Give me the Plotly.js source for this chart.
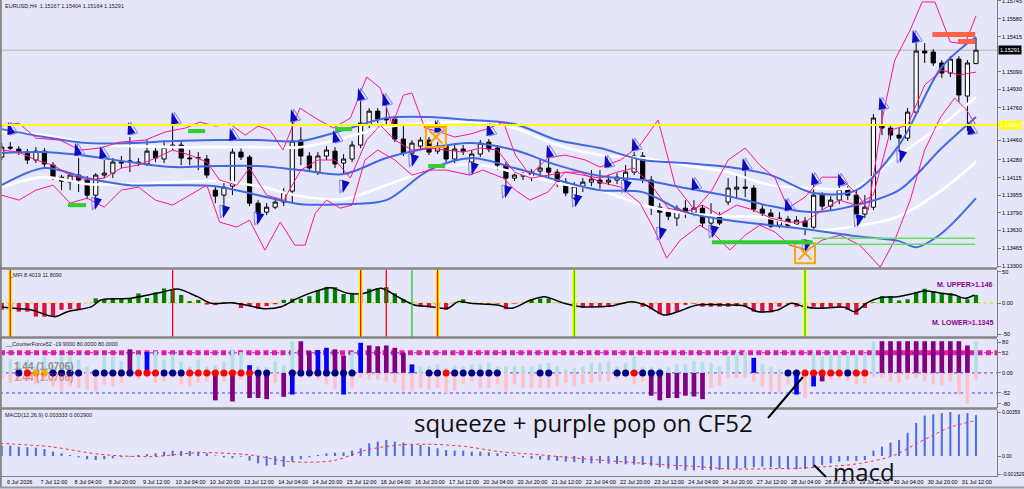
<!DOCTYPE html>
<html><head><meta charset="utf-8">
<script src="https://cdn.plot.ly/plotly-3.0.1.min.js"></script>
<style>html,body{margin:0;padding:0;background:#E6E6FA;}#chart{width:1024px;height:489px;}</style>
</head><body><div id="chart"></div>
<script>
// ---------- price candles (EURUSD H4) ----------
const candleOpen = [1.14305,1.14397,1.14379,1.14351,1.14278,1.14360,1.14231,1.14120,1.14074,1.14139,1.14093,1.13954,1.14139,1.14157,1.14250,1.14259,1.14259,1.14241,1.14360,1.14287,1.14397,1.14416,1.14296,1.14296,1.14287,1.14000,1.13954,1.14037,1.14351,1.14305,1.13880,1.13797,1.13843,1.13890,1.13991,1.14462,1.14315,1.14166,1.14315,1.14360,1.14250,1.14287,1.14416,1.14600,1.14729,1.14656,1.14656,1.14471,1.14342,1.14406,1.14462,1.14360,1.14406,1.14287,1.14379,1.14259,1.14333,1.14443,1.14388,1.14231,1.14111,1.14130,1.14120,1.14176,1.14204,1.14166,1.14074,1.13926,1.14037,1.14074,1.14093,1.14074,1.14093,1.14093,1.14166,1.14315,1.14093,1.13843,1.13797,1.13742,1.13834,1.13788,1.13834,1.13696,1.13770,1.13890,1.14009,1.14028,1.14019,1.13825,1.13788,1.13677,1.13733,1.13687,1.13714,1.13659,1.13954,1.13853,1.13908,1.14009,1.13954,1.13779,1.13843,1.14600,1.14573,1.14508,1.14480,1.14720,1.15283,1.15274,1.15173,1.15080,1.15209,1.14868,1.15167];
const candleHigh = [1.14434,1.14443,1.14406,1.14379,1.14397,1.14388,1.14259,1.14139,1.14166,1.14296,1.14130,1.14157,1.14278,1.14296,1.14315,1.14490,1.14296,1.14462,1.14406,1.14462,1.14600,1.14462,1.14370,1.14351,1.14324,1.14037,1.14065,1.14388,1.14388,1.14324,1.13908,1.13880,1.13926,1.14019,1.14646,1.14580,1.14351,1.14351,1.14406,1.14397,1.14333,1.14453,1.14850,1.14757,1.14757,1.14757,1.14683,1.14591,1.14462,1.14490,1.14490,1.14443,1.14434,1.14434,1.14416,1.14370,1.14462,1.14471,1.14416,1.14259,1.14166,1.14166,1.14194,1.14278,1.14296,1.14194,1.14111,1.14074,1.14111,1.14185,1.14185,1.14139,1.14157,1.14231,1.14351,1.14351,1.14130,1.13880,1.13834,1.13862,1.13908,1.13908,1.13862,1.13880,1.13797,1.14111,1.14139,1.14185,1.14046,1.13862,1.13825,1.13797,1.13760,1.13760,1.13751,1.14046,1.13982,1.13945,1.14046,1.14037,1.14000,1.13954,1.14702,1.14739,1.14600,1.14573,1.14757,1.15357,1.15357,1.15301,1.15200,1.15237,1.15237,1.15200,1.15404];
const candleLow = [1.14278,1.14370,1.14324,1.14241,1.14250,1.14204,1.14093,1.14000,1.14000,1.13982,1.13917,1.13926,1.14111,1.14111,1.14204,1.14166,1.14222,1.14222,1.14259,1.14250,1.14370,1.14231,1.14231,1.14185,1.14111,1.13880,1.13834,1.13954,1.14278,1.13853,1.13770,1.13770,1.13825,1.13853,1.13890,1.14231,1.14166,1.14139,1.14278,1.14204,1.14139,1.14259,1.14388,1.14573,1.14619,1.14600,1.14443,1.14315,1.14305,1.14370,1.14324,1.14333,1.14259,1.14250,1.14324,1.14231,1.14305,1.14351,1.14185,1.14009,1.14083,1.14093,1.14083,1.14130,1.14111,1.14028,1.13945,1.13908,1.13982,1.14037,1.14009,1.14046,1.14056,1.14056,1.14139,1.14065,1.13770,1.13650,1.13723,1.13668,1.13742,1.13760,1.13659,1.13631,1.13677,1.13862,1.13917,1.13935,1.13797,1.13742,1.13650,1.13650,1.13650,1.13650,1.13585,1.13631,1.13816,1.13816,1.13871,1.13908,1.13742,1.13742,1.13816,1.14508,1.14462,1.14351,1.14453,1.14693,1.15173,1.15145,1.15034,1.15043,1.14813,1.14545,1.15164];
const candleClose = [1.14397,1.14388,1.14351,1.14278,1.14360,1.14241,1.14111,1.14083,1.14139,1.14093,1.13954,1.14139,1.14157,1.14259,1.14259,1.14268,1.14250,1.14360,1.14296,1.14397,1.14416,1.14296,1.14290,1.14300,1.14139,1.13945,1.14028,1.14351,1.14305,1.13880,1.13788,1.13843,1.13890,1.13982,1.14453,1.14315,1.14204,1.14315,1.14370,1.14241,1.14287,1.14416,1.14619,1.14729,1.14656,1.14650,1.14471,1.14342,1.14434,1.14462,1.14351,1.14406,1.14287,1.14379,1.14360,1.14333,1.14434,1.14379,1.14231,1.14111,1.14139,1.14134,1.14166,1.14204,1.14166,1.14074,1.13973,1.14037,1.14074,1.14102,1.14065,1.14093,1.14120,1.14166,1.14315,1.14102,1.13843,1.13797,1.13760,1.13834,1.13788,1.13834,1.13696,1.13770,1.13696,1.14019,1.14028,1.14019,1.13825,1.13788,1.13668,1.13742,1.13677,1.13723,1.13659,1.13954,1.13853,1.13908,1.14009,1.13954,1.13779,1.13843,1.14665,1.14573,1.14508,1.14480,1.14720,1.15283,1.15265,1.15173,1.15080,1.15209,1.14877,1.15173,1.15291];

// ---------- x-axis labels ----------
const timeLabelBars = [0,4,8,12,16,20,24,28,32,36,40,44,48,52,56,60,64,68,72,76,80,84,88,92,96,100,104,108,112];
const timeLabels = ["6 Jul 2026","7 Jul 12:00","8 Jul 04:00","8 Jul 20:00","9 Jul 12:00","10 Jul 04:00","10 Jul 20:00","13 Jul 12:00","14 Jul 04:00","14 Jul 20:00","15 Jul 12:00","16 Jul 04:00","16 Jul 20:00","17 Jul 12:00","20 Jul 04:00","20 Jul 20:00","21 Jul 12:00","22 Jul 04:00","22 Jul 20:00","23 Jul 12:00","24 Jul 04:00","24 Jul 20:00","27 Jul 12:00","28 Jul 04:00","28 Jul 20:00","29 Jul 12:00","30 Jul 04:00","30 Jul 20:00","31 Jul 12:00"];
const priceTicks = [1.15745,1.15580,1.15415,1.15090,1.14930,1.14760,1.14460,1.14280,1.14115,1.13955,1.13790,1.13630,1.13465,1.13300];

// ---------- channel lines (blue / white) ----------
const bandBar = [0,5,10,15,20,25,30,35,40,45,50,55,60,65,70,75,80,85,90,95,100,105,110,114];
const blueUpper = [1.14563,1.14490,1.14434,1.14434,1.14453,1.14462,1.14462,1.14453,1.14554,1.14665,1.14674,1.14646,1.14610,1.14462,1.14388,1.14278,1.14250,1.14213,1.14139,1.13973,1.14000,1.14416,1.15136,1.15413];
const blueMiddle = [1.14342,1.14351,1.14315,1.14259,1.14213,1.14222,1.14222,1.14185,1.14148,1.14296,1.14388,1.14434,1.14370,1.14231,1.14130,1.14093,1.14019,1.13945,1.13853,1.13797,1.13862,1.14000,1.14388,1.14674];
const blueLowerBar = [0,5,10,15,20,25,30,35,40,45,50,55,60,65,70,75,80,85,90,95,100,105,107,110,114];
const blueLower = [1.14046,1.14204,1.14111,1.14046,1.14046,1.14037,1.13954,1.13871,1.13871,1.13908,1.14185,1.14296,1.14204,1.14093,1.14000,1.13982,1.13797,1.13723,1.13677,1.13631,1.13576,1.13530,1.13474,1.13603,1.13926];
const whiteUpper = [1.14536,1.14508,1.14434,1.14406,1.14397,1.14397,1.14397,1.14397,1.14480,1.14582,1.14619,1.14628,1.14573,1.14416,1.14324,1.14296,1.14231,1.14166,1.14046,1.14019,1.14028,1.14324,1.14600,1.14859];
const whiteLower = [1.14028,1.14120,1.14056,1.14056,1.14074,1.14083,1.14037,1.13945,1.13917,1.14046,1.14185,1.14241,1.14166,1.14065,1.14000,1.13862,1.13788,1.13760,1.13742,1.13631,1.13668,1.13760,1.14000,1.14259];

// ---------- pink bands ----------
const pinkUpperBar = [0,2,4,6.8,9.2,11.5,13.8,16.8,19.1,21.5,23.2,25,26.7,28.5,30,31.4,32.9,34.9,36.7,38.8,40.8,42.7,44.3,45.7,47,48,49.5,51.3,53,54.8,57.1,58.7,60.1,61.8,63.9,65.9,68.3,70,72.4,74.7,76.8,78.8,81.1,83.1,85,87,88.7,90.5,92,94,96,98.1,100.2,101.4,103,104.5,106.3,107.7,109.2,111,112.7,114];
const pinkUpper = [1.14591,1.14619,1.14480,1.14462,1.14370,1.14388,1.14443,1.14462,1.14536,1.14573,1.14628,1.14591,1.14610,1.14508,1.14591,1.14554,1.14370,1.14757,1.14665,1.14573,1.14665,1.15043,1.14942,1.14600,1.14877,1.14896,1.14573,1.14536,1.14490,1.14517,1.14573,1.14628,1.14324,1.14139,1.14296,1.14324,1.14278,1.14213,1.14278,1.14416,1.14646,1.14046,1.13816,1.14000,1.14278,1.14388,1.14231,1.14111,1.13834,1.13936,1.14120,1.14120,1.13954,1.13816,1.14646,1.15200,1.15477,1.15736,1.15736,1.15366,1.15348,1.15606];
const pinkLowerBar = [0,2,4,6,8,10,12,14,16,18,20,22,24,25.5,27.5,29,30.8,32.6,34.3,35.5,36.7,38,39.6,41,42.5,44,46,48,50,52,54.8,56.3,58.7,60.1,61.8,63.9,65.9,67.7,70,72.4,74.7,76.4,77.8,79.4,81.7,83.5,85.2,87,88.7,90.5,92.2,94.3,96,98.1,100.4,102.8,104.5,106.3,108,109.8,111.5,112.9,114];
const pinkLower = [1.13954,1.13908,1.14000,1.14046,1.13880,1.13926,1.13843,1.14000,1.14028,1.13908,1.13862,1.13954,1.14046,1.13705,1.13659,1.13723,1.13447,1.13705,1.13493,1.13493,1.13788,1.13908,1.13834,1.13862,1.14278,1.14370,1.14278,1.14139,1.14185,1.14185,1.14139,1.14185,1.14111,1.14000,1.13908,1.13982,1.14166,1.14166,1.14074,1.14028,1.13880,1.13631,1.13373,1.13539,1.13677,1.13585,1.13447,1.13585,1.13677,1.13613,1.13493,1.13447,1.13539,1.13585,1.13493,1.13290,1.13539,1.13908,1.14370,1.14665,1.14850,1.14739,1.14600];
const pinkMidBar = [0,2,4,6,8,10,12,14,16,18,20,22,24,25.5,27.5,29,31,33,35,37,39,40.8,42.7,44.3,46,48,50,52,54,56,58,60,62,64,66,68,70,72,74,76,78,80,82,84,86,88,90,92,94,96,98,100,102,104,106,108,110,112,114];
const pinkMid = [1.14370,1.14351,1.14278,1.14231,1.14139,1.14093,1.14111,1.14204,1.14231,1.14296,1.14370,1.14324,1.14259,1.14093,1.14046,1.14204,1.13954,1.13908,1.14185,1.14278,1.14278,1.14111,1.14462,1.14600,1.14462,1.14370,1.14388,1.14370,1.14351,1.14388,1.14370,1.14166,1.14111,1.14139,1.14166,1.14139,1.14111,1.14166,1.14204,1.14046,1.13834,1.13797,1.13862,1.13770,1.13862,1.13816,1.13742,1.13705,1.13705,1.13816,1.13908,1.13862,1.13954,1.14554,1.14600,1.14969,1.15108,1.15062,1.15089];

// ---------- signal arrows / objects ----------
const arrowUpBar = [0.74,8.58,11.5,14.8,19.9,26.7,33.85,38.8,41.7,44.6,50.7,56.8,63.8,70.6,73.8,80.8,86.7,91.7,94.8,97.9,102.7,106.6,113.1];
const arrowUpPrice = [1.14628,1.14434,1.14406,1.14628,1.14720,1.14573,1.14748,1.14554,1.14942,1.14896,1.14646,1.14619,1.14416,1.14324,1.14480,1.14120,1.14296,1.13926,1.14166,1.14157,1.14859,1.15477,1.14628];
const arrowDownBar = [10.9,25.9,29.9,39.9,48,55,58.9,67.1,72.9,77,83.1,94,100.1,105.1];
const arrowDownPrice = [1.13816,1.13742,1.13677,1.13973,1.14213,1.14139,1.13926,1.13843,1.13973,1.13539,1.13557,1.13428,1.13659,1.14250];
const greenZoneStart = [7.76,21.8,39.0,49.9,83.1];
const greenZoneEnd = [9.87,23.8,41.0,51.9,94.9];
const greenZonePrice = [1.13862,1.14545,1.14563,1.14222,1.13520];
const greenLevelStart = 94.9, greenLevelEnd = 113.9;
const greenLevelPrices = [1.13557,1.13502];
const redZoneStart = [108.9,111.9];
const redZoneEnd = [113.9,113.9];
const redZonePrice = [1.15436,1.15371];
const crossBoxBar = [50.8,94];
const crossBoxPrice = [1.14490,1.13419];
const keyLevel = 1.14600;
const lastPrice = 1.15291;

// ---------- MFI panel ----------
const mfiHist = [-11,-11,-14,-14,-22,-22,-22,-11,-10,-10,0,7.5,5,7.5,7.5,8,15.5,8,17,23.5,21,13,3,5,-2.5,-3.5,1,1.5,-8,-5,-9,-5,-2,5,7,7,11,20,26,25.5,14.5,14.5,14.5,23,24,25.5,15.6,6,0.5,-6,-7,-7,-11,0.5,6,-1,-1,-1,-1,-10,-1,0.5,6,7.5,7.5,0.5,-0.5,-8,-8,-6,-6,-6,-1,1.5,0.5,-6,-10,-18,-19,-14,-3,-1,-6,-6,-6,-6,-5,-6,-14,-15,-15,-6,-1,-6,-11,-6,-8,-8,-6,-11,-19,-8,1,11,11,4,6,18,23,19,16,16,9.5,6,13];
const mfiLineBar = [-0.5,1.5,3.4,6.2,7.7,10.5,11.6,15.1,19,20.6,22.9,24.5,26.8,28.4,30.7,32.7,34.6,36.6,38.5,40.5,42.4,44.4,46.3,48.3,50.2,52.2,53.4,54.9,58,59.6,61.9,63.5,65.8,67.8,71.3,73.7,75.3,77.5,79.1,81.4,84.9,86.9,88.5,90.8,92.4,93.9,95.5,98.6,99.8,101.3,103,104.8,106.8,108,110,111.5,112.7,113.8];
const mfiLineVal = [-5.9,-8.6,-10.8,-22,-14,-5.9,4.8,7.5,18.3,22.6,10.2,-0.5,0.5,-2.7,-9.1,-5.9,7.5,18.3,24.7,15.6,15.6,23.7,10.2,-3.2,-5.9,-8.6,2.2,-0.5,-3.2,-8.6,4.8,10.2,-0.5,-5.9,-4.8,2.2,-3.2,-19.4,-14,-3.2,-3.2,-4.8,-14,-11.3,-0.5,-5.9,-8.6,-7,-14,0.5,9.1,10.2,15.6,19.9,15.6,12.9,7.5,12.9];
const mfiMarkerBar = [1,20,42,45,48,51,67,94];
const mfiMarkerKind = ["yr","r","yr","r","g","yr","yg","yg"];

// ---------- CounterForce52 panel ----------
const cfUp = [43,35,30,35,17,43,17,43,43,35,17,9,43,43,30,61,48,54,56,35,48,30,17,35,17,20,30,62,54,20,17,15,30,20,82,82,56,59,65,61,45,54,78,71,69,71,65,52,22,17,17,22,13,19,17,22,22,26,17,17,17,17,17,24,26,17,9,13,17,26,26,30,17,26,43,16,16,13,16,22,22,30,28,26,17,43,52,54,39,22,16,9,9,9,10,52,43,48,48,48,48,48,82,82,82,82,82,82,82,82,82,82,82,71,82];
const cfUpKind = "cccccccccccccccpcbcccccccccccbcccccppbbppcbpppppbcccccccccccccccccccccccccccccccccccccccbccccccccccccccpppppppppppcp";
const cfDn = [-13,-26,-17,-22,-30,-17,-35,-48,-35,-39,-43,-48,-30,-35,-26,-13,-17,-13,-26,-22,-13,-30,-35,-26,-22,-71,-22,-74,-17,-65,-65,-68,-26,-62,-56,-13,-13,-17,-30,-43,-56,-39,-13,-17,-17,-22,-26,-48,-48,-39,-42,-39,-52,-45,-28,-22,-39,-39,-30,-48,-30,-39,-39,-39,-39,-35,-26,-35,-30,-26,-22,-22,-17,-13,-30,-22,-59,-71,-65,-65,-59,-61,-68,-39,-33,-13,-13,-13,-22,-35,-48,-52,-30,-56,-65,-35,-22,-17,-17,-22,-30,-28,-10,-13,-22,-26,-17,-13,-22,-30,-33,-22,-56,-80,-17];
const cfDnKind = "kkkkkkkkkkkkkkkkkkkkkkkkkpkpkpppkpbkkkkkbkkkkkkkkkkkkkkkkkkkkkkkkkkkkkkkkkkkpppppppkkkkkkkkkkbkbpkkkkkkkkkkkkkkkkkkbpk";
const cfDot = "--nroonnnn-nnnnnrrrnnnrrrrrrrrnn--nnnnnnnn--------nnrnnnnnn----nn-------nnrnnn--------------nnrrrrrnrr-------------";

// ---------- MACD panel ----------
const macdHist = [0.00084,0.00084,0.00076,0.00071,0.00068,0.00057,0.00035,0.00022,0.00008,-0.00011,-0.00027,-0.00033,-0.00027,-0.00019,-0.0001,-0.00005,0.00008,0.00016,0.00022,0.00035,0.00044,0.00041,0.00041,0.00035,0.00022,0.00005,-0.00011,-0.00019,-0.00005,-0.00038,-0.0006,-0.00079,-0.00073,-0.00087,-0.00046,-0.00027,-0.00011,0.00008,0.00022,0.00027,0.0003,0.00044,0.00063,0.00103,0.00117,0.00131,0.00117,0.00109,0.00098,0.0009,0.00076,0.00063,0.00049,0.00044,0.00044,0.00035,0.00035,0.0003,0.00022,0.00016,0.00008,-0.00011,-0.00022,-0.0003,-0.00035,-0.0004,-0.00046,-0.0005,-0.00057,-0.0006,-0.0006,-0.00063,-0.00065,-0.00068,-0.0007,-0.00073,-0.00081,-0.00092,-0.00103,-0.00114,-0.0012,-0.00117,-0.00114,-0.00117,-0.00114,-0.00109,-0.00103,-0.00098,-0.00092,-0.00087,-0.00092,-0.001,-0.00109,-0.00109,-0.00106,-0.00092,-0.00073,-0.0006,-0.00046,-0.00038,-0.0004,-0.00033,0.00044,0.00076,0.0011,0.0013,0.0019,0.0027,0.0033,0.0034,0.0035,0.00359,0.0034,0.0035,0.00333];
const macdSignalBar = [-0.2,5.65,11.5,17.4,23.2,29.1,33.7,38.8,42.7,46.6,50.5,54.4,58.3,62.2,66.2,70,74,77.8,81.7,84.8,89,93,96.5,100.5,104.4,107.1,109,111,114];
const macdSignal = [0.00103,0.00076,0.00014,-0.00005,0.00027,0.00008,-0.00046,-0.00038,0.00049,0.0009,0.00095,0.00076,0.00035,0.00014,-0.00011,-0.00033,-0.00054,-0.00073,-0.00087,-0.00105,-0.00105,-0.001,-0.00087,-0.0006,0.00005,0.00103,0.0017,0.00235,0.0029];

// ================= build =================
const barIdx = candleOpen.map((_, i) => i);
const PW = 997, PH = 476;
const pxX = v => v / PW;
const pxY = v => 1 - v / PH;
const FONT = "Liberation Sans, Arial, sans-serif";

const traces = [];
traces.push({type:'candlestick', x:barIdx, open:candleOpen, high:candleHigh, low:candleLow, close:candleClose,
  xaxis:'x', yaxis:'y', whiskerwidth:0, hoverinfo:'skip',
  increasing:{line:{color:'#000000', width:1}, fillcolor:'#FFFFFF'},
  decreasing:{line:{color:'#000000', width:1}, fillcolor:'#000000'}});
function line(x, y, color, width, shape, yaxis, dash) {
  traces.push({type:'scatter', mode:'lines', x:x, y:y, xaxis:'x', yaxis:yaxis||'y', hoverinfo:'skip',
    line:{color:color, width:width, shape:shape||'linear', smoothing:0.9, dash:dash||'solid'}});
}
line(bandBar, whiteUpper, '#FFFFFF', 2.6, 'spline');
line(bandBar, whiteLower, '#FFFFFF', 2.6, 'spline');
line(bandBar, blueUpper, '#4169E1', 2, 'spline');
line(bandBar, blueMiddle, '#4169E1', 2, 'spline');
line(blueLowerBar, blueLower, '#4169E1', 2, 'spline');
line(pinkUpperBar, pinkUpper, '#FF1493', 1);
line(pinkMidBar, pinkMid, '#FF1493', 1);
line(pinkLowerBar, pinkLower, '#FF1493', 1);

// arrows (light ghost + solid)
traces.push({type:'scatter', mode:'markers', x:arrowUpBar.map(v=>v+0.3), y:arrowUpPrice, xaxis:'x', yaxis:'y', hoverinfo:'skip',
  marker:{symbol:'arrow-open', size:13, angle:-15, color:'#8080f0', line:{width:1, color:'#8080f0'}}});
traces.push({type:'scatter', mode:'markers', x:arrowUpBar, y:arrowUpPrice, xaxis:'x', yaxis:'y', hoverinfo:'skip',
  marker:{symbol:'arrow', size:13, angle:-15, color:'#0a0ac0', line:{width:0}}});
traces.push({type:'scatter', mode:'markers', x:arrowDownBar.map(v=>v-0.3), y:arrowDownPrice, xaxis:'x', yaxis:'y', hoverinfo:'skip',
  marker:{symbol:'arrow-open', size:13, angle:195, color:'#8080f0', line:{width:1, color:'#8080f0'}}});
traces.push({type:'scatter', mode:'markers', x:arrowDownBar, y:arrowDownPrice, xaxis:'x', yaxis:'y', hoverinfo:'skip',
  marker:{symbol:'arrow', size:13, angle:195, color:'#0a0ac0', line:{width:0}}});
// orange cross boxes
traces.push({type:'scatter', mode:'markers', x:crossBoxBar, y:crossBoxPrice, xaxis:'x', yaxis:'y', hoverinfo:'skip',
  marker:{symbol:'square-open', size:20, color:'#FFA500', line:{width:2, color:'#FFA500'}}});
traces.push({type:'scatter', mode:'markers', x:crossBoxBar, y:crossBoxPrice, xaxis:'x', yaxis:'y', hoverinfo:'skip',
  marker:{symbol:'x-thin-open', size:13, color:'#FFA500', line:{width:2, color:'#FFA500'}}});

// MFI
traces.push({type:'bar', x:barIdx, y:mfiHist, xaxis:'x', yaxis:'y2', width:0.5, hoverinfo:'skip',
  marker:{color:mfiHist.map(v => v >= 0 ? '#008000' : '#DC143C'), line:{width:0}}});
line(mfiLineBar, mfiLineVal, '#000000', 1.5, 'spline', 'y2');

// CounterForce52
const upColor = {c:'#B0E0E6', p:'#800080', b:'#0000FF'};
const dnColor = {k:'#FFC0CB', p:'#800080', b:'#0000FF'};
traces.push({type:'bar', x:barIdx, y:cfUp, xaxis:'x', yaxis:'y3', hoverinfo:'skip',
  width:cfUpKind.split('').map(k => k === 'c' ? 0.42 : 0.55),
  marker:{color:cfUpKind.split('').map(k => upColor[k]), line:{width:0}}});
traces.push({type:'bar', x:barIdx, y:cfDn, xaxis:'x', yaxis:'y3', hoverinfo:'skip',
  width:cfDnKind.split('').map(k => k === 'k' ? 0.42 : 0.55),
  marker:{color:cfDnKind.split('').map(k => dnColor[k]), line:{width:0}}});
const dotColor = {n:'#000080', r:'#FF0000', o:'#FFA500'};
const dotX = [], dotC = [];
cfDot.split('').forEach((k, i) => { if (dotColor[k]) { dotX.push(i); dotC.push(dotColor[k]); } });
traces.push({type:'scatter', mode:'markers', x:dotX, y:dotX.map(() => 0), xaxis:'x', yaxis:'y3', hoverinfo:'skip',
  marker:{size:7, color:dotC, line:{width:0}}});

// MACD
traces.push({type:'bar', x:barIdx, y:macdHist, xaxis:'x', yaxis:'y4', width:0.24, hoverinfo:'skip',
  marker:{color:'#4a6fe3', line:{width:0}}});
line(macdSignalBar, macdSignal, '#FF3030', 1, 'spline', 'y4', 'dot');

// ---------- shapes ----------
const shapes = [];
shapes.push({type:'line', xref:'paper', x0:0, x1:1, yref:'y', y0:lastPrice, y1:lastPrice, line:{color:'#B4B4B4', width:1}, layer:'below'});
shapes.push({type:'line', xref:'paper', x0:0, x1:1, yref:'y', y0:keyLevel, y1:keyLevel, line:{color:'#FFFF00', width:2}, layer:'above'});
const zoneHalf = 0.00019;
greenZonePrice.forEach((p, i) => shapes.push({type:'rect', xref:'x', yref:'y', x0:greenZoneStart[i], x1:greenZoneEnd[i],
  y0:p - zoneHalf, y1:p + zoneHalf, fillcolor:'#32CD32', line:{width:0}, layer:'above'}));
greenLevelPrices.forEach(p => shapes.push({type:'line', xref:'x', yref:'y', x0:greenLevelStart, x1:greenLevelEnd, y0:p, y1:p,
  line:{color:'#66DD66', width:1.5}, layer:'above'}));
redZonePrice.forEach((p, i) => shapes.push({type:'rect', xref:'x', yref:'y', x0:redZoneStart[i], x1:redZoneEnd[i],
  y0:p - 0.00023, y1:p + 0.00023, fillcolor:'#FF6347', line:{width:0}, layer:'above'}));
// MFI markers
mfiMarkerBar.forEach((b, i) => {
  const k = mfiMarkerKind[i];
  if (k[0] === 'y') shapes.push({type:'line', xref:'x', yref:'y2 domain', x0:b, x1:b, y0:0, y1:1, line:{color:'#FFFF00', width:4}, layer:'above'});
  const inner = k.slice(-1) === 'g' ? '#22CC22' : '#FF0000';
  shapes.push({type:'line', xref:'x', yref:'y2 domain', x0:b, x1:b, y0:0, y1:1, line:{color:inner, width:1.3}, layer:'above'});
});
shapes.push({type:'line', xref:'paper', x0:0, x1:1, yref:'y2', y0:0, y1:0, line:{color:'#D8D800', width:1, dash:'dot'}, layer:'below'});
// CF52 levels
shapes.push({type:'line', xref:'paper', x0:0, x1:1, yref:'y3', y0:52, y1:52, line:{color:'#FF1493', width:5, dash:'5px,3.5px'}, layer:'below'});
[52, 0, -52].forEach(v => shapes.push({type:'line', xref:'paper', x0:0, x1:1, yref:'y3', y0:v, y1:v, line:{color:'#4040FF', width:1, dash:'dot'}, layer:'below'}));
// panel separators and frame
[268.5, 337.5, 408.5].forEach(y => shapes.push({type:'line', xref:'paper', yref:'paper', x0:0, x1:1, y0:pxY(y), y1:pxY(y), line:{color:'#858585', width:2.5}}));
shapes.push({type:'line', xref:'paper', yref:'paper', x0:0.0008, x1:0.0008, y0:pxY(488), y1:1, line:{color:'#858585', width:2}});
shapes.push({type:'line', xref:'paper', yref:'paper', x0:0, x1:1027/PW, y0:pxY(487.5), y1:pxY(487.5), line:{color:'#9a9a9a', width:2}});
// callout strokes
shapes.push({type:'line', xref:'paper', yref:'paper', x0:pxX(768), y0:pxY(418), x1:pxX(803), y1:pxY(377), line:{color:'#000000', width:2}});
shapes.push({type:'line', xref:'paper', yref:'paper', x0:pxX(814), y0:pxY(465), x1:pxX(826), y1:pxY(477), line:{color:'#000000', width:2}});

// ---------- annotations ----------
const small = {family:FONT, size:5.5, color:'#202020'};
function txt(x, y, text, font, xa, ya, extra) {
  return Object.assign({xref:'paper', yref:'paper', x:pxX(x), y:pxY(y), text:text, showarrow:false,
    xanchor:xa||'left', yanchor:ya||'top', font:font}, extra||{});
}
const annotations = [
  txt(3, 1, 'EURUSD,H4\u00a0\u00a01.15167 1.15404 1.15164 1.15291', small),
  txt(7, 270, '_MFI 8.4019 11.8090', small),
  txt(3, 339, '__CounterForce52 -19.9000 80.0000 80.0000', small),
  txt(3, 409.5, 'MACD(12,26,9) 0.003333 0.002900', small),
  txt(995, 284, '<b>M. UPPER&gt;1.146</b>', {family:FONT, size:7, color:'#8B008B'}, 'right', 'middle'),
  txt(995, 322, '<b>M. LOWER&gt;1.1345</b>', {family:FONT, size:7, color:'#8B008B'}, 'right', 'middle'),
  txt(12, 377, '<b>1.44 (1.0706)</b>', {family:FONT, size:10, color:'rgba(200,40,40,0.45)'}, 'left', 'middle'),
  txt(12, 366, '<b>1.44 (1.0706)</b>', {family:FONT, size:10, color:'#8f8f8f'}, 'left', 'middle'),
  txt(412, 422, 'squeeze + purple pop on CF52', {family:'Open Sans, sans-serif', size:24, color:'#111111'}, 'left', 'middle'),
  txt(831, 471, 'macd', {family:'Open Sans, sans-serif', size:24, color:'#111111'}, 'left', 'middle'),
  {xref:'paper', yref:'y', x:pxX(998), y:lastPrice, text:'1.15291', showarrow:false, xanchor:'left', yanchor:'middle',
    bgcolor:'#000000', borderpad:1, font:{family:FONT, size:5.5, color:'#FFFFFF'}},
  {xref:'paper', yref:'y', x:pxX(998), y:keyLevel, text:'1.14600', showarrow:false, xanchor:'left', yanchor:'middle',
    bgcolor:'#FFFF00', borderpad:1, font:{family:FONT, size:5.5, color:'#FFFFFF'}}
];

// ---------- axes ----------
function yax(domain, range, vals, texts, fs) {
  return {domain:domain, range:range, side:'right', anchor:'x', showgrid:false, zeroline:false, fixedrange:true,
    showline:true, linecolor:'#808080', linewidth:1, ticks:'outside', ticklen:3, tickcolor:'#808080',
    ticklabeloverflow:'allow',
    tickmode:'array', tickvals:vals, ticktext:texts, tickfont:{family:FONT, size:fs||5.5, color:'#000000'}};
}
const layout = {
  width:1024, height:489, margin:{l:0, r:27, t:0, b:13, pad:0},
  paper_bgcolor:'#E6E6FA', plot_bgcolor:'#E6E6FA', showlegend:false, barmode:'overlay', boxgap:0.3,
  xaxis:{domain:[0,1], range:[-0.2,116.46], anchor:'y4', showgrid:false, zeroline:false, fixedrange:true,
    showline:true, linecolor:'#808080', ticks:'', tickmode:'array',
    tickvals:timeLabelBars.map(b => b + 2.1), ticktext:timeLabels,
    tickfont:{family:FONT, size:5.5, color:'#000000'}, rangeslider:{visible:false}},
  yaxis:yax([1-268/PH, 1], [1.13282, 1.15754], priceTicks, priceTicks.map(v => v.toFixed(5))),
  yaxis2:yax([1-337/PH, 1-270/PH], [-54.8, 53.2], [50, 0, -50], ['50', '0.00', '-50']),
  yaxis3:yax([1-408/PH, 1-339/PH], [-90.9, 87.8], [80, 52, 0, -52, -80], ['80', '52', '0.00', '-52', '-80']),
  yaxis4:yax([0, 1-410/PH], [-0.001632, 0.003753], [0.00359, 0, -0.001529], ['0.00359', '0.00', '-0.001529'], 5),
  shapes:shapes, annotations:annotations
};
Plotly.newPlot('chart', traces, layout, {staticPlot:true, displayModeBar:false});
</script>
</body></html>
